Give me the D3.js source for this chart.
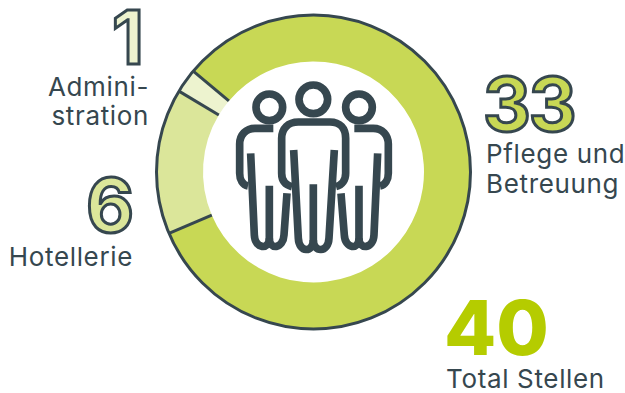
<!DOCTYPE html>
<html>
<head>
<meta charset="utf-8">
<script src="https://cdn.jsdelivr.net/npm/d3@7"></script>
<style>
html,body{margin:0;padding:0;background:#fff}
svg{display:block}
text{font-family:Inter,"Open Sans",sans-serif}
</style>
</head>
<body>
<svg id="chart" width="625" height="393"></svg>
<script>
// Staff positions by department, clockwise round the ring
const categories = ["Pflege und Betreuung", "Hotellerie", "Administration"];
const values = [33, 6, 1];
const colours = ["#c8d855", "#dbe69a", "#edf3cf"];
const totalValue = 40;
const totalLabel = "Total Stellen";

const ink = "#36474f";
const lime = "#b5cc00";
const cx = 313.5, cy = 172, outer = 157, inner = 110.5;

const svg = d3.select("#chart");

const pie = d3.pie().sort(null).value(d => d)
  .startAngle(-50 * Math.PI / 180)
  .endAngle(310 * Math.PI / 180);
const slices = pie(values);
const arc = d3.arc().innerRadius(inner).outerRadius(outer);

const ring = svg.append("g").attr("transform", `translate(${cx},${cy})`);
ring.selectAll("path.slice").data(slices).join("path")
  .attr("class", "slice")
  .attr("d", arc)
  .attr("fill", (d, i) => colours[i]);

// Divider at the start of every slice
ring.selectAll("line.divider").data(slices).join("line")
  .attr("class", "divider")
  .attr("x1", d => inner * Math.sin(d.startAngle))
  .attr("y1", d => -inner * Math.cos(d.startAngle))
  .attr("x2", d => outer * Math.sin(d.startAngle))
  .attr("y2", d => -outer * Math.cos(d.startAngle))
  .attr("stroke", ink).attr("stroke-width", 3);

ring.append("circle").attr("r", outer)
  .attr("fill", "none").attr("stroke", ink).attr("stroke-width", 3);

// Group-of-people pictogram in the middle of the ring
const icon = svg.append("g")
  .attr("transform", "translate(230,75) scale(0.3333)")
  .attr("fill", "none").attr("stroke", ink)
  .attr("stroke-width", 23);
[[250, 73, 43], [118, 97, 40], [387, 97, 40]].forEach(([x, y, r]) =>
  icon.append("circle").attr("cx", x).attr("cy", y).attr("r", r));
[
  // middle figure
  "M186,335 C165,330 155,315 155,295 L155,190 C155,160 175,141 205,141 L300,141 C330,141 347,160 347,190 L347,295 C347,315 337,330 318,335",
  "M191,225 L205,490 C207,534 250,534 250,495 L250,328",
  "M313,225 L297,490 C295,534 250,534 250,495",
  // left figure
  "M130,160 L75,160 C48,160 29,180 29,207 L29,295 C29,315 38,330 54,333",
  "M62,235 L73,480 C75,522 118,526 118,490 L118,332",
  "M118,490 C118,526 160,522 162,480 L171,355",
  // right figure
  "M373,160 L430,160 C457,160 475,180 475,207 L475,295 C475,315 466,330 450,333",
  "M443,235 L432,480 C430,522 387,526 387,490 L387,332",
  "M387,490 C387,526 345,522 343,480 L333,355"
].forEach(p => icon.append("path").attr("d", p));

// Outlined department counts
const counts = [
  { value: values[2], x: 144, y: 64, anchor: "end", fill: colours[2], spacing: 0 },
  { value: values[0], x: 483, y: 131, anchor: "start", fill: colours[0], spacing: -2 },
  { value: values[1], x: 134, y: 232, anchor: "end", fill: colours[1], spacing: 0 }
];
svg.selectAll("text.count").data(counts).join("text")
  .attr("class", "count")
  .attr("x", d => d.x).attr("y", d => d.y)
  .attr("text-anchor", d => d.anchor)
  .attr("font-size", 74).attr("font-weight", 700)
  .attr("letter-spacing", d => d.spacing)
  .attr("fill", d => d.fill)
  .attr("stroke", ink).attr("stroke-width", 3)
  .text(d => d.value);

svg.append("text")
  .attr("x", 444).attr("y", 355)
  .attr("font-size", 76).attr("font-weight", 800)
  .attr("fill", lime)
  .text(totalValue);

// Department captions
const captions = [
  { text: "Admini-", x: 149, y: 96, anchor: "end" },
  { text: "stration", x: 149, y: 125, anchor: "end" },
  { text: "Pflege und", x: 486, y: 163, anchor: "start" },
  { text: "Betreuung", x: 486, y: 193, anchor: "start" },
  { text: "Hotellerie", x: 133, y: 266, anchor: "end" },
  { text: totalLabel, x: 446, y: 388, anchor: "start" }
];
svg.selectAll("text.caption").data(captions).join("text")
  .attr("class", "caption")
  .attr("x", d => d.x).attr("y", d => d.y)
  .attr("text-anchor", d => d.anchor)
  .attr("font-size", 26).attr("font-weight", 400)
  .attr("letter-spacing", 0.65)
  .attr("fill", ink)
  .text(d => d.text);
</script>
</body>
</html>
